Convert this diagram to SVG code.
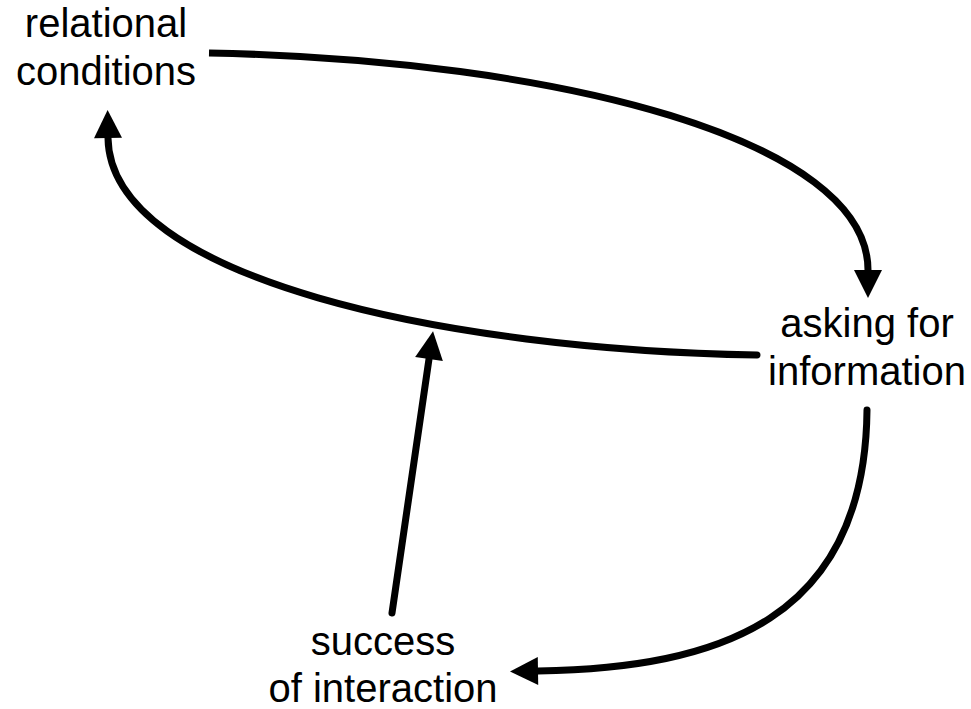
<svg xmlns="http://www.w3.org/2000/svg" width="971" height="709" viewBox="0 0 971 709">
<style>
text{font-family:"Liberation Sans",Arial,sans-serif;font-size:40px;fill:#000;text-anchor:middle}
.c{fill:none;stroke:#000;stroke-width:7;stroke-linecap:round}
</style>
<defs>
<marker id="ah" markerUnits="userSpaceOnUse" markerWidth="30" markerHeight="30" refX="0" refY="14" orient="auto" overflow="visible">
<path d="M0,0 L28,14 L0,28 z" fill="#000"/>
</marker>
</defs>
<rect width="971" height="709" fill="#fff"/>
<g id="connectors">
<path class="c" d="M209,53 C560,60 868,140 868,270" marker-end="url(#ah)" style="stroke-linecap:butt"/>
<path class="c" d="M757,355 C450,350 110,280 108,138" marker-end="url(#ah)"/>
<path class="c" d="M392,613 L429,359" marker-end="url(#ah)"/>
<path class="c" d="M867,410 C865,620 720,668 538,671" marker-end="url(#ah)"/>
</g>
<g id="relational-conditions">
<text x="106" y="37">relational</text>
<text x="106" y="85">conditions</text>
</g>
<g id="asking-for-information">
<text x="867" y="337">asking for</text>
<text x="867" y="385">information</text>
</g>
<g id="success-of-interaction">
<text x="383" y="655">success</text>
<text x="383" y="702">of interaction</text>
</g>
</svg>
